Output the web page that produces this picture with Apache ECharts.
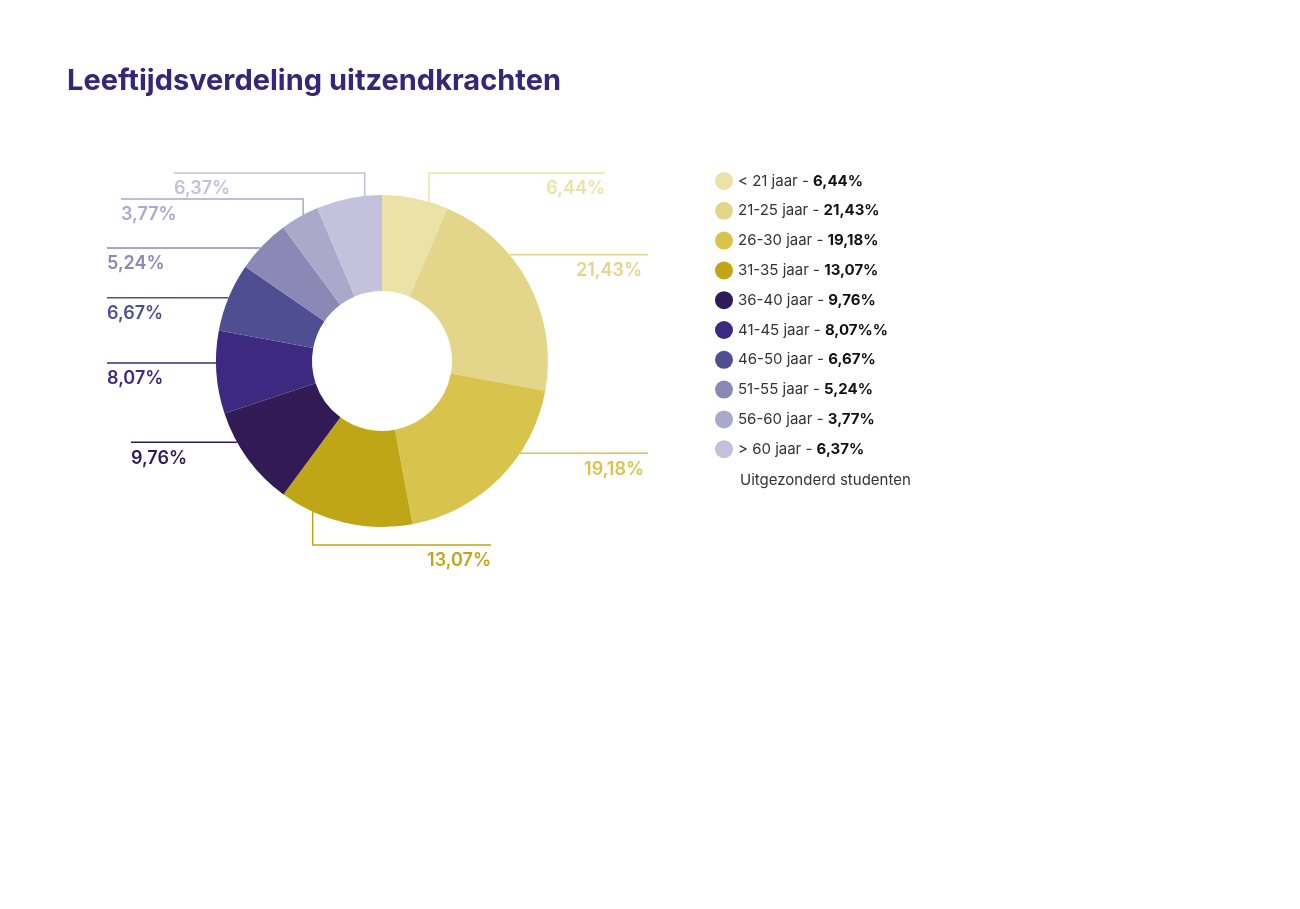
<!DOCTYPE html>
<html>
<head>
<meta charset="utf-8">
<title>Leeftijdsverdeling uitzendkrachten</title>
<script src="https://cdn.jsdelivr.net/npm/echarts@6/dist/echarts.min.js"></script>
<style>
    html, body { margin: 0; padding: 0; background: #fff; }
    #main { width: 1300px; height: 909px; }
</style>
</head>
<body>
<div id="main"></div>
<script>
// leeftijdsgroepen en aandelen (%)
var categories = ['< 21 jaar', '21-25 jaar', '26-30 jaar', '31-35 jaar', '36-40 jaar',
    '41-45 jaar', '46-50 jaar', '51-55 jaar', '56-60 jaar', '> 60 jaar'];
var shares = [6.44, 21.43, 19.18, 13.07, 9.76, 8.07, 6.67, 5.24, 3.77, 6.37];
// teksten zoals in de legenda gedrukt
var legendPct = ['6,44%', '21,43%', '19,18%', '13,07%', '9,76%', '8,07%%', '6,67%', '5,24%', '3,77%', '6,37%'];
var colors = ['#ece2a7', '#e3d589', '#d8c44d', '#bea616', '#311a56',
    '#3d2a80', '#4f4e92', '#8b88b6', '#aba8cb', '#c3c1dc'];

var FONT = 'Inter';
var CX = 382, CY = 361, R_IN = 70, R_OUT = 166;

// leader lines: where on the slice they start (fraction of the slice),
// 'v' = first vertical to a level then horizontal, 'h' = straight horizontal
var leaders = [
    {type: 'v', at: 0.71, level: 173, end: 605},
    {type: 'h', at: 0.35, end: 648, pad: 6},
    {type: 'h', at: 0.34, end: 648, pad: 4},
    {type: 'v', at: 0.75, level: 545, end: 491},
    {type: 'h', at: 0.69, end: 131},
    {type: 'h', at: 0.61, end: 107},
    {type: 'h', at: 0.49, end: 107},
    {type: 'h', at: 0.44, end: 107},
    {type: 'v', at: 0.60, level: 199, end: 121},
    {type: 'v', at: 0.74, level: 173, end: 174}
];

function fmt(v) {
    return v.toFixed(2).replace('.', ',') + '%';
}

var total = shares.reduce(function (a, b) { return a + b; }, 0);
var startAngles = [];
var acc = 0;
for (var i = 0; i < shares.length; i++) {
    startAngles.push(acc / total * 360);
    acc += shares[i];
}

function anchorPoint(idx) {
    var deg = startAngles[idx] + shares[idx] / total * 360 * leaders[idx].at;
    var rad = deg * Math.PI / 180;
    return [CX + R_OUT * Math.sin(rad), CY - R_OUT * Math.cos(rad)];
}

function layoutLabel(params) {
    var idx = params.dataIndex;
    var ld = leaders[idx];
    var p = anchorPoint(idx);
    var toLeft = ld.end < p[0];
    var pts, lineY;
    if (ld.type === 'v') {
        lineY = ld.level;
        pts = [[p[0], p[1]], [p[0], lineY], [ld.end, lineY]];
    } else {
        lineY = p[1];
        pts = [[p[0], p[1]], [ld.end, lineY]];
    }
    var pad = ld.pad || 0;
    return {
        x: toLeft ? ld.end + pad : ld.end - pad,
        y: lineY + 16,
        align: toLeft ? 'left' : 'right',
        verticalAlign: 'middle',
        labelLinePoints: pts
    };
}

var pieData = [];
for (var k = 0; k < categories.length; k++) {
    pieData.push({
        name: categories[k],
        value: shares[k],
        itemStyle: {color: colors[k]},
        label: {color: colors[k]}
    });
}

var option = {
    animation: false,
    textStyle: {fontFamily: FONT},
    title: [{
        text: 'Leeftijdsverdeling uitzendkrachten',
        left: 62,
        top: 62,
        textStyle: {fontFamily: FONT, fontSize: 29, fontWeight: 'bold', color: '#36267a'}
    }, {
        text: 'Uitgezonderd studenten',
        left: 735,
        top: 468,
        textStyle: {fontFamily: FONT, fontSize: 15, fontWeight: 'normal', color: '#333'}
    }],
    legend: {
        orient: 'vertical',
        left: 710,
        top: 167,
        icon: 'circle',
        itemWidth: 18,
        itemHeight: 18,
        itemGap: 11.8,
        itemStyle: {borderWidth: 0},
        data: categories,
        formatter: function (name) {
            return name + ' - {b|' + legendPct[categories.indexOf(name)] + '}';
        },
        textStyle: {
            fontFamily: FONT,
            fontSize: 15,
            color: '#333',
            rich: {
                b: {fontFamily: FONT, fontSize: 15, fontWeight: 'bold', color: '#111'}
            }
        }
    },
    series: [{
        type: 'pie',
        center: [CX, CY],
        radius: [R_IN, R_OUT],
        startAngle: 90,
        clockwise: true,
        avoidLabelOverlap: false,
        silent: true,
        itemStyle: {borderWidth: 0},
        label: {
            show: true,
            position: 'outside',
            fontFamily: FONT,
            fontSize: 18,
            fontWeight: 600,
            formatter: function (p) { return fmt(p.value); }
        },
        labelLine: {
            show: true,
            length: 10,
            length2: 10,
            lineStyle: {width: 1.5}
        },
        labelLayout: layoutLabel,
        data: pieData
    }]
};

var myChart = echarts.init(document.getElementById('main'));
myChart.setOption(option);
</script>
</body>
</html>
